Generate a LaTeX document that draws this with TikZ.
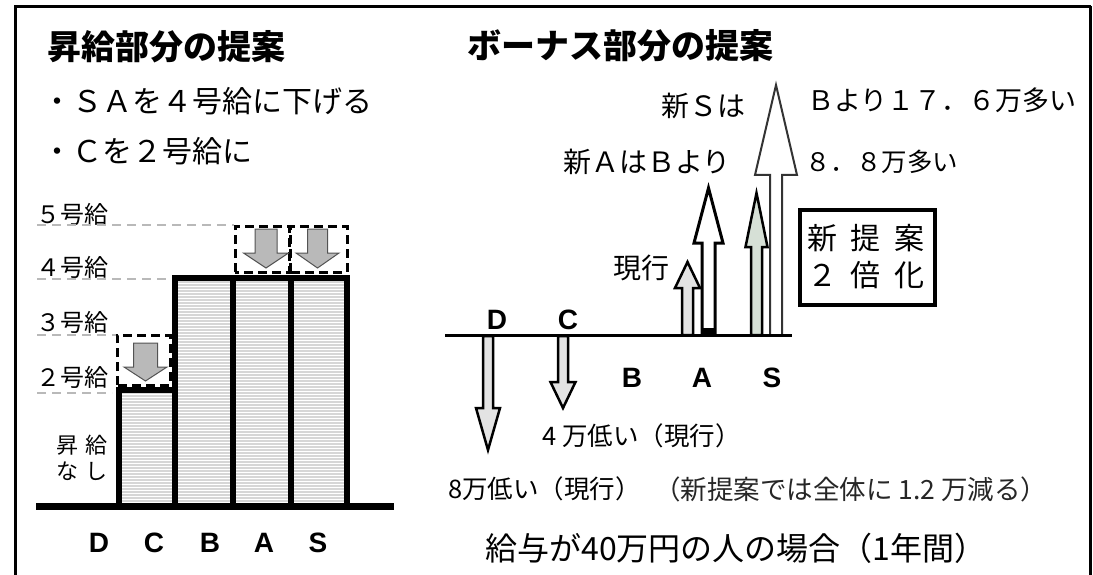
\documentclass[tikz,border=0pt]{standalone}
\usepackage{fontspec}
\usetikzlibrary{patterns}
\setmainfont{Liberation Sans}
\newfontfamily\jp{Noto Sans CJK JP}
\newfontfamily\lat{Liberation Sans}
\newcommand\fsz[1]{\fontsize{#1}{#1}\selectfont}
% style, xc, ybase, yheadbase, ytip, shaft half width, head half width
\newcommand\arrowshape[7]{%
  \draw[#1] ({#2-#6},#3) -- ({#2-#6},#4) -- ({#2-#7},#4) -- (#2,#5) --
    ({#2+#7},#4) -- ({#2+#6},#4) -- ({#2+#6},#3) -- cycle;}
\newcommand\barshape[4]{%
  \fill[gray!32] (#1,#2) rectangle (#3,#4);
  \fill[pattern=horizontal lines, pattern color=white] (#1,#2) rectangle (#3,#4);
  \draw[bar] (#1,#2) rectangle (#3,#4);}
\begin{document}
\begin{tikzpicture}[x=1pt,y=-1pt,
  txt/.style={inner sep=0pt, font=\jp},
  title/.style={txt, anchor=west, font=\jp\bfseries\fsz{34}},
  grade/.style={txt, font=\jp\fsz{24}},
  letter/.style={inner sep=0pt, font=\lat\bfseries\fsz{28}},
  bar/.style={draw=black, line width=6pt},
  guide/.style={draw=gray!55, line width=1.5pt, dash pattern=on 9pt off 6pt},
  dbox/.style={draw=black, line width=3pt, dash pattern=on 9pt off 5pt},
  grayarrow/.style={fill=gray!55, draw=gray!65!black, line width=1pt},
  dotarrow/.style={fill=gray!22, draw=black, line width=2.5pt, line join=miter},
  sarrow/.style={fill={rgb,255:red,214;green,224;blue,214}, draw=black, line width=2.5pt, line join=miter},
  newarrow/.style={fill=white, draw=black, line width=3pt, line join=miter},
  newsarrow/.style={fill=white, draw=black!80, line width=2pt, line join=miter}]
\useasboundingbox (0,0) rectangle (1093,575);
\fill[white] (0,0) rectangle (1093,575);
% frame
\draw[line width=3.5pt] (15.5,590) -- (15.5,6.5) -- (1090.5,6.5);
\draw[line width=2.5pt] (1090.5,6.5) -- (1090.5,590);

% ---------------- left panel ----------------
\node[title] (t1) at (47,47) {昇給部分の提案};
\node[txt, anchor=west, font=\jp\fsz{30}] (b1) at (42,101) {・ＳＡを４号給に下げる};
\node[txt, anchor=west, font=\jp\fsz{30}] (b2) at (42,151) {・Ｃを２号給に};

\node[grade] (g5) at (72,214) {５号給};
\node[grade] (g4) at (72,267) {４号給};
\node[grade] (g3) at (72,322) {３号給};
\node[grade] (g2) at (72,377) {２号給};
\node[txt, font=\jp\fsz{22}] (n1) at (82,445) {昇\hspace{8pt}給};
\node[txt, font=\jp\fsz{22}] (n2) at (82,471) {な\hspace{8pt}し};

\draw[guide] (37,225) -- (234,225);
\draw[guide] (37,279) -- (172,279);
\draw[guide] (37,335) -- (116,335);
\draw[guide] (37,393) -- (112,393);

% bars
\barshape{118.5}{390}{175}{506}
\barshape{175}{278}{233}{506}
\barshape{233}{278}{291}{506}
\barshape{291}{278}{347}{506}
\draw[line width=7pt] (36,506) -- (394,506);

% dashed boxes with arrows
\draw[dbox] (117,385) -- (117,335) -- (170,335) -- (170,385) -- cycle;
\draw[dbox] (235,272) -- (235,226) -- (289,226) -- (289,272) -- cycle;
\draw[dbox] (290,272) -- (290,226) -- (347,226) -- (347,272) -- cycle;
\arrowshape{grayarrow}{145.5}{343}{367}{381}{12}{21.5}
\arrowshape{grayarrow}{266}{229}{253}{268}{11}{22.5}
\arrowshape{grayarrow}{317.5}{229}{253}{268}{10}{21.5}

\node[letter] (lD) at (99,543) {D};
\node[letter] (lC) at (154,543) {C};
\node[letter] (lB) at (210,543) {B};
\node[letter] (lA) at (264,543) {A};
\node[letter] (lS) at (318,543) {S};

% ---------------- right panel ----------------
\node[title] (t2) at (467,46) {ボーナス部分の提案};
\node[txt, anchor=east, font=\jp\fsz{28}] (sS) at (746,106) {新Ｓは};
\node[txt, anchor=west, font=\jp\fsz{27}] (sB) at (807,100) {Ｂより１７．６万多い};
\node[txt, anchor=east, font=\jp\fsz{28}] (aA) at (731,162) {新ＡはＢより};
\node[txt, anchor=west, font=\jp\fsz{25.5}] (aB) at (805,162) {８．８万多い};
\node[txt, font=\jp\fsz{28}] (cur) at (641,268) {現行};

% arrows
\arrowshape{newsarrow}{776}{335}{175}{85}{6}{21}
\arrowshape{newarrow}{708.5}{335}{243}{188}{6.5}{14.5}
\fill (702,328) rectangle (715,335);
\arrowshape{sarrow}{756.5}{335}{247}{193}{5.5}{11}
\arrowshape{dotarrow}{687.5}{335}{288}{262}{5.5}{12.5}
\arrowshape{dotarrow}{488}{336}{408}{450}{5}{12}
\arrowshape{dotarrow}{563}{336}{382}{408}{5}{12.5}
\draw[line width=3pt] (445,335) -- (792,335);

\node[letter] (rD) at (497,320) {D};
\node[letter] (rC) at (568,320) {C};
\node[letter] (rB) at (632,378) {B};
\node[letter] (rA) at (702,378) {A};
\node[letter] (rS) at (772,378) {S};

% new proposal box
\draw[line width=4pt] (800,210) rectangle (935,305);
\node[txt, font=\jp\fsz{30}] (nb1) at (866,238) {新\hspace{14pt}提\hspace{14pt}案};
\node[txt, font=\jp\fsz{30}] (nb2) at (866,275) {２\hspace{14pt}倍\hspace{14pt}化};

% bottom texts
\node[txt, anchor=west, font=\jp\fsz{25.5}] (lowC) at (542,436) {4 万低い（現行）};
\node[txt, anchor=west, font=\jp\fsz{25.5}] (lowD) at (448,489) {8万低い（現行）};
\node[txt, anchor=west, font=\jp\fsz{26.5}, text=black!85] (note) at (654,489) {（新提案では全体に 1.2 万減る）};
\node[txt, font=\jp\fsz{32}] (case) at (736,548) {給与が40万円の人の場合（1年間）};
\end{tikzpicture}
\end{document}
